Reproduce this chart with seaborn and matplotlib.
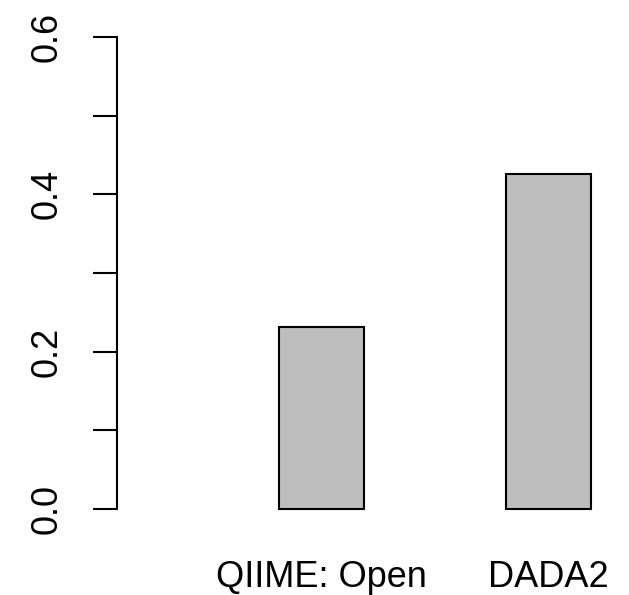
import matplotlib
matplotlib.use("Agg")
import matplotlib.pyplot as plt
import seaborn as sns
import pandas as pd

categories = ["QIIME: Open", "DADA2"]
values = [0.231, 0.426]
yticks = [0.0, 0.1, 0.2, 0.3, 0.4, 0.5, 0.6]
ytick_labels = ["0.0", "", "0.2", "", "0.4", "", "0.6"]

sns.set_style("white")
plt.rcParams['font.family'] = ['Liberation Sans', 'DejaVu Sans']

df = pd.DataFrame({"method": categories, "value": values})

fig = plt.figure(figsize=(6.29, 5.95), dpi=100)
ax = fig.add_axes([117/629, 67/595, (609-117)/629, (528-18)/595])
sns.barplot(data=df, x="method", y="value", ax=ax, color="#BEBEBE",
            saturation=1, width=0.375, edgecolor="black", linewidth=1.5)

ax.set_xlim(-0.90, 1.267)
ax.set_ylim(-0.024, 0.624)
for s in ["top", "right", "bottom"]:
    ax.spines[s].set_visible(False)
ax.spines["left"].set_bounds(0, 0.6)
ax.spines["left"].set_linewidth(1.5)
ax.spines["left"].set_color("black")

ax.set_yticks(yticks)
ax.set_yticklabels(ytick_labels, rotation=90, va="center", fontsize=26)
ax.tick_params(axis="y", length=17.5, width=1.5, pad=20, color="black",
               labelcolor="black", left=True)
ax.tick_params(axis="x", length=0, pad=23, labelsize=26, labelcolor="black")
ax.set_xlabel("")
ax.set_ylabel("")

fig.savefig("out.png", dpi=100)
